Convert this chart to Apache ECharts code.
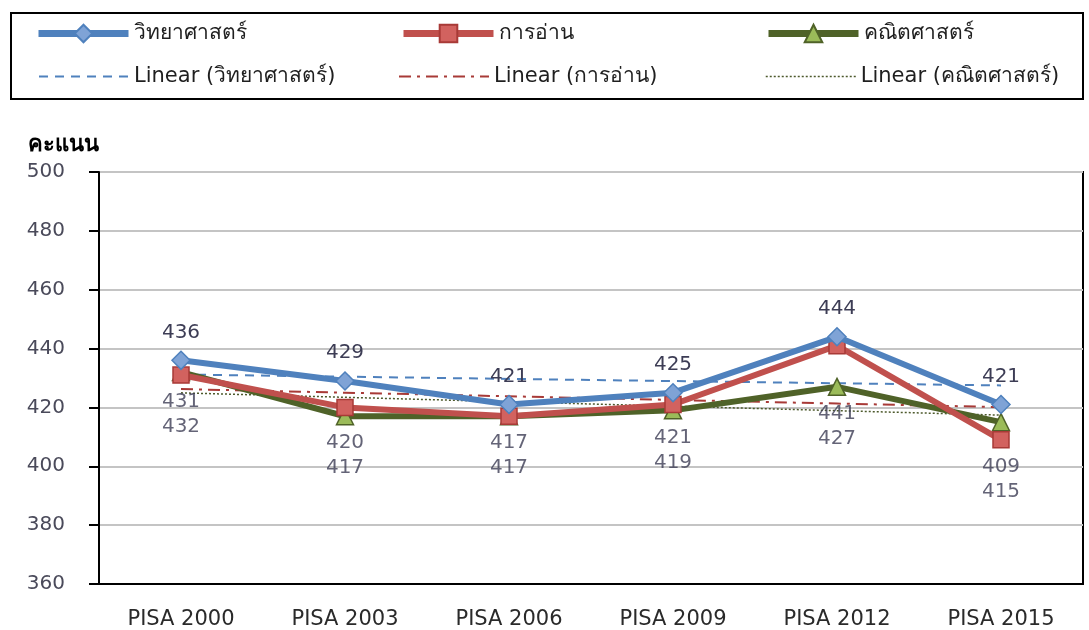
<!DOCTYPE html>
<html>
<head>
<meta charset="utf-8">
<script src="https://cdn.jsdelivr.net/npm/echarts@6/dist/echarts.min.js"></script>
<style>
  html, body { margin: 0; padding: 0; background: #fff; }
  #chart { width: 1089px; height: 630px; }
</style>
</head>
<body>
<div id="chart"></div>
<script>
// คะแนน PISA ของไทย
var categories = ['PISA 2000', 'PISA 2003', 'PISA 2006', 'PISA 2009', 'PISA 2012', 'PISA 2015']
var science = [436, 429, 421, 425, 444, 421]
var reading = [431, 420, 417, 421, 441, 409]
var math = [432, 417, 417, 419, 427, 415]
var yTicks = { min: 360, max: 500, interval: 20 }

var nameScience = 'วิทยาศาสตร์'
var nameReading = 'การอ่าน'
var nameMath = 'คณิตศาสตร์'

var FONT = 'Tahoma, "DejaVu Sans", "Noto Sans", sans-serif'

// เส้นแนวโน้มเชิงเส้น (least squares) แบบเดียวกับ Excel
function linear(values) {
    var n = values.length, sx = 0, sy = 0, sxx = 0, sxy = 0
    values.forEach(function (v, i) { sx += i; sy += v; sxx += i * i; sxy += i * v })
    var b = (n * sxy - sx * sy) / (n * sxx - sx * sx)
    var a = (sy - b * sx) / n
    return values.map(function (v, i) { return +(a + b * i).toFixed(2) })
}

var lowerOf = categories.map(function (c, i) { return Math.min(reading[i], math[i]) })

function oneLegend(name, left, top, lineWidth, hideSymbol) {
    var lg = {
        data: [name], left: left, top: top,
        itemWidth: 90, itemHeight: hideSymbol ? 16 : 22, padding: 0, itemGap: 4,
        textStyle: { fontFamily: FONT, fontSize: 21, color: '#1f1f1f' },
        lineStyle: { width: lineWidth }
    }
    if (hideSymbol) lg.itemStyle = { opacity: 0 }
    return lg
}

var option = {
    animation: false,
    backgroundColor: '#fff',
    textStyle: { fontFamily: FONT },
    graphic: [{
        type: 'rect',
        shape: { x: 11, y: 13, width: 1072, height: 86 },
        style: { fill: 'none', stroke: '#000', lineWidth: 2 }
    }],
    legend: [
        oneLegend(nameScience, 35, 23, 7),
        oneLegend(nameReading, 400, 23, 7),
        oneLegend(nameMath, 765, 23, 7),
        oneLegend('Linear (' + nameScience + ')', 38, 66, 2, true),
        oneLegend('Linear (' + nameReading + ')', 398, 66, 2, true),
        oneLegend('Linear (' + nameMath + ')', 765, 66, 1.5, true)
    ],
    grid: {
        left: 99, right: 6, top: 172, bottom: 46,
        outerBoundsMode: 'none',
        show: true, borderColor: '#000', borderWidth: 2, backgroundColor: 'transparent'
    },
    xAxis: {
        type: 'category',
        data: categories,
        boundaryGap: true,
        axisLine: { lineStyle: { color: '#000', width: 2 } },
        axisTick: { length: 10, lineStyle: { color: '#000', width: 2 } },
        axisLabel: { margin: 25, fontSize: 21, color: '#2a2a2a', fontFamily: FONT }
    },
    yAxis: {
        type: 'value',
        min: yTicks.min, max: yTicks.max, interval: yTicks.interval,
        name: 'คะแนน',
        nameLocation: 'end',
        nameGap: 16,
        nameTextStyle: { align: 'right', fontSize: 22, fontWeight: 'bold', color: '#000', fontFamily: FONT },
        axisLine: { show: true, lineStyle: { color: '#000', width: 2 } },
        axisTick: { show: true, length: 10, lineStyle: { color: '#000', width: 2 } },
        axisLabel: { margin: 34, fontSize: 20, color: '#4a4a5a', fontFamily: FONT },
        splitLine: { lineStyle: { color: '#c4c4c4', width: 2 } }
    },
    series: [
        {
            name: 'Linear (' + nameScience + ')', type: 'line', data: linear(science),
            symbol: 'none', z: 1,
            lineStyle: { color: '#4F81BD', width: 2, type: [9, 7] },
            itemStyle: { color: '#4F81BD' }
        },
        {
            name: 'Linear (' + nameReading + ')', type: 'line', data: linear(reading),
            symbol: 'none', z: 1,
            lineStyle: { color: '#A83A37', width: 2, type: [12, 6, 3, 6] },
            itemStyle: { color: '#A83A37' }
        },
        {
            name: 'Linear (' + nameMath + ')', type: 'line', data: linear(math),
            symbol: 'none', z: 1,
            lineStyle: { color: '#4d5a2c', width: 1.5, type: [2, 2] },
            itemStyle: { color: '#4d5a2c' }
        },
        {
            name: nameMath, type: 'line', data: math, z: 3,
            symbol: 'triangle', symbolSize: 17, showAllSymbol: true,
            lineStyle: { color: '#4F6228', width: 6 },
            itemStyle: { color: '#9BBB59', borderColor: '#4F6228', borderWidth: 1.5 }
        },
        {
            name: nameReading, type: 'line', data: reading, z: 4,
            symbol: 'rect', symbolSize: 16,
            lineStyle: { color: '#C0504D', width: 6 },
            itemStyle: { color: '#D2625F', borderColor: '#A83A37', borderWidth: 1.5 }
        },
        {
            name: nameScience, type: 'line', data: science, z: 5,
            symbol: 'diamond', symbolSize: 18,
            lineStyle: { color: '#4F81BD', width: 6 },
            itemStyle: { color: '#7FA3D6', borderColor: '#4F81BD', borderWidth: 1.5 },
            label: {
                show: true, position: 'top', distance: 8,
                fontSize: 20, color: '#3d3d55', fontFamily: FONT
            }
        },
        {
            // ป้ายคะแนนการอ่าน/คณิตศาสตร์ ซ้อนใต้จุดที่ต่ำกว่า
            name: 'labels', type: 'scatter', data: lowerOf, z: 6,
            symbolSize: 1, itemStyle: { color: 'transparent' },
            silent: true,
            label: {
                show: true, position: 'bottom', distance: 14,
                fontSize: 20, lineHeight: 25, color: '#3d3d55', fontFamily: FONT,
                formatter: function (p) { return reading[p.dataIndex] + '\n' + math[p.dataIndex] }
            }
        }
    ]
}

var myChart = echarts.init(document.getElementById('chart'))
myChart.setOption(option)
</script>
</body>
</html>
